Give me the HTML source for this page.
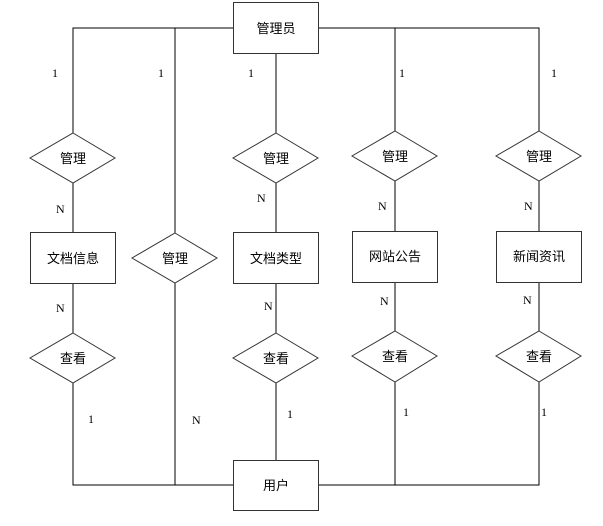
<!DOCTYPE html>
<html><head><meta charset="utf-8"><style>
html,body{margin:0;padding:0;background:#fff;width:603px;height:526px;overflow:hidden}
svg text{font-family:"Liberation Serif","Noto Sans CJK SC",serif;fill:#000}
.c{font-family:"Liberation Sans","Noto Sans CJK SC",sans-serif;font-size:13px}
.n{font-size:12px}
</style></head><body>
<svg width="603" height="526" viewBox="0 0 603 526" xmlns="http://www.w3.org/2000/svg">
<g stroke="#000" stroke-width="1" fill="none">
<polyline points="73,133 73,28 233,28"/>
<polyline points="318,28 539,28 539,131"/>
<line x1="395" y1="28" x2="395" y2="131"/>
<line x1="175" y1="28" x2="175" y2="233"/>
<line x1="276" y1="53" x2="276" y2="133"/>
<line x1="73" y1="183" x2="73" y2="232"/>
<line x1="276" y1="183" x2="276" y2="232"/>
<line x1="395" y1="181" x2="395" y2="231"/>
<line x1="539" y1="181" x2="539" y2="231"/>
<line x1="73" y1="283" x2="73" y2="333"/>
<line x1="276" y1="283" x2="276" y2="333"/>
<line x1="395" y1="282" x2="395" y2="331"/>
<line x1="539" y1="282" x2="539" y2="331"/>
<polyline points="73,383 73,485 233,485"/>
<line x1="175" y1="283" x2="175" y2="485"/>
<line x1="276" y1="383" x2="276" y2="460"/>
<polyline points="318,485 539,485 539,382"/>
<line x1="395" y1="382" x2="395" y2="485"/>
<g fill="#fff" stroke="#333">
<rect x="233.5" y="2.5" width="85" height="51"/>
<rect x="30.5" y="232.5" width="85" height="51"/>
<rect x="233.5" y="232.5" width="85" height="51"/>
<rect x="352.5" y="231.5" width="85" height="51"/>
<rect x="496.5" y="231.5" width="85" height="51"/>
<rect x="233.5" y="460.5" width="85" height="50"/>
<polygon points="73,133 115,158 73,183 30,158"/>
<polygon points="276,133 318,158 276,183 233,158"/>
<polygon points="395,131 437,156 395,181 352,156"/>
<polygon points="539,131 581,156 539,181 496,156"/>
<polygon points="175,233 217,258 175,283 132,258"/>
<polygon points="73,333 115,358 73,383 30,358"/>
<polygon points="276,333 318,358 276,383 233,358"/>
<polygon points="395,331 437,356 395,382 352,356"/>
<polygon points="539,331 581,356 539,382 496,356"/>
</g></g>
<g class="c" text-anchor="middle">
<text x="276" y="33">管理员</text>
<text x="73" y="163">管理</text>
<text x="276" y="163">管理</text>
<text x="395" y="161">管理</text>
<text x="539" y="161">管理</text>
<text x="175" y="263">管理</text>
<text x="73" y="263">文档信息</text>
<text x="276" y="263">文档类型</text>
<text x="395" y="261">网站公告</text>
<text x="539" y="261">新闻资讯</text>
<text x="73" y="363">查看</text>
<text x="276" y="363">查看</text>
<text x="395" y="361">查看</text>
<text x="539" y="361">查看</text>
<text x="276" y="490">用户</text>
</g>
<g class="n">
<text x="52" y="77">1</text><text x="158" y="77">1</text><text x="248" y="77">1</text>
<text x="399" y="77">1</text><text x="551" y="77">1</text>
<text x="56" y="213">N</text><text x="257" y="202">N</text><text x="378" y="210">N</text><text x="524" y="210">N</text>
<text x="56" y="312">N</text><text x="264" y="310">N</text><text x="380" y="305">N</text><text x="523" y="304">N</text>
<text x="88" y="423">1</text><text x="192" y="424">N</text><text x="287" y="418">1</text>
<text x="403" y="416">1</text><text x="541" y="416">1</text>
</g>
</svg>
</body></html>
